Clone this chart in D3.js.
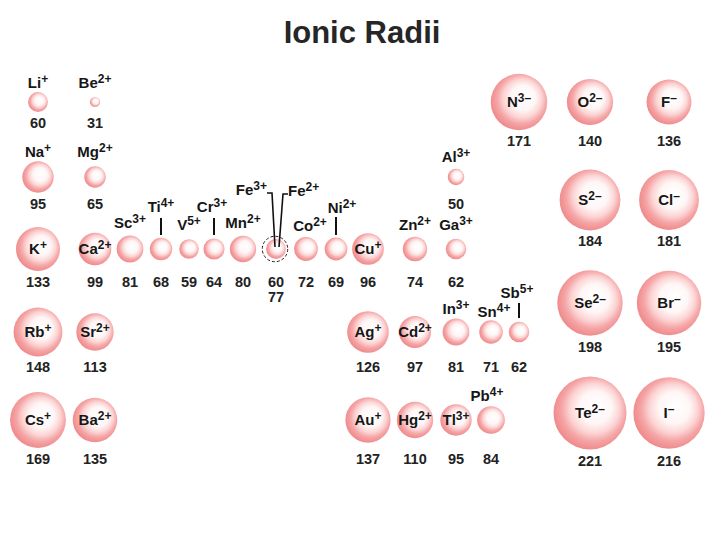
<!DOCTYPE html>
<html>
<head>
<meta charset="utf-8">
<script src="https://cdn.jsdelivr.net/npm/d3@7"></script>
<style>
  body { margin: 0; background: #fff; }
  text { font-family: "Liberation Sans", Arial, sans-serif; font-weight: bold; fill: #161616; }
</style>
</head>
<body>
<svg id="chart" width="720" height="540"></svg>
<script>
const symbols = ["Li", "Be", "Na", "Mg", "K", "Ca", "Sc", "Ti", "V", "Cr", "Mn", "Fe", "Fe", "Co", "Ni", "Cu", "Zn", "Ga", "Al",
  "Rb", "Sr", "Ag", "Cd", "In", "Sn", "Sb", "Cs", "Ba", "Au", "Hg", "Tl", "Pb",
  "N", "O", "F", "S", "Cl", "Se", "Br", "Te", "I"];
const charges = ["+", "2+", "+", "2+", "+", "2+", "3+", "4+", "5+", "3+", "2+", "3+", "2+", "2+", "2+", "+", "2+", "3+", "3+",
  "+", "2+", "+", "2+", "3+", "4+", "5+", "+", "2+", "+", "2+", "3+", "4+",
  "3–", "2–", "–", "2–", "–", "2–", "–", "2–", "–"];
const radii = [60, 31, 95, 65, 133, 99, 81, 68, 59, 64, 80, 60, 77, 72, 69, 96, 74, 62, 50,
  148, 113, 126, 97, 81, 71, 62, 169, 135, 137, 110, 95, 84,
  171, 140, 136, 184, 181, 198, 195, 221, 216];
const groups = [1, 2, 1, 2, 1, 2, 3, 4, 5, 6, 7, 8, 8, 9, 10, 11, 12, 13, 13,
  1, 2, 11, 12, 13, 14, 15, 1, 2, 11, 12, 13, 14,
  15, 16, 17, 16, 17, 16, 17, 16, 17];
const periods = [2, 2, 3, 3, 4, 4, 4, 4, 4, 4, 4, 4, 4, 4, 4, 4, 4, 4, 3,
  5, 5, 5, 5, 5, 5, 5, 6, 6, 6, 6, 6, 6,
  2, 2, 2, 3, 3, 4, 4, 5, 5];

// layout of the table
const xScale = d3.scaleOrdinal().domain(d3.range(1, 18))
  .range([38, 95, 130, 161, 189, 214, 243, 276, 306, 336, 368, 415, 456, 491, 519, 590, 669]);
const yCation = d3.scaleOrdinal().domain([2, 3, 4, 5, 6]).range([102, 177, 249, 332, 420]);
const yAnion = d3.scaleOrdinal().domain([2, 3, 4, 5]).range([102, 200, 303, 413]);
const rScale = d3.scaleLinear().domain([0, 221]).range([0, 36.5]);

// small ions get their label above the ball
const outside = {
  "Li+": { dy: -14 }, "Be2+": { dy: -14 }, "Na+": { dy: -20 }, "Mg2+": { dy: -20 },
  "Sc3+": { dy: -21 }, "V5+": { dy: -19 }, "Mn2+": { dy: -21 }, "Co2+": { dx: 4, dy: -18 },
  "Zn2+": { dy: -19 }, "Ga3+": { dy: -19 }, "Al3+": { dy: -15 },
  "Ti4+": { dy: -37, tick: [-31, -14] }, "Cr3+": { dx: -2, dy: -37, tick: [-31, -14] },
  "Ni2+": { dx: 6, dy: -36, tick: [-32, -14] },
  "In3+": { dy: -18 }, "Sn4+": { dx: 3, dy: -15 }, "Sb5+": { dx: -2, dy: -34, tick: [-29, -14] },
  "Pb4+": { dx: -4, dy: -19 },
  "Fe3+": { dx: -9, dy: -54, anchor: "end", leader: [[-9, -56], [-4, -56], [-1, -2]] },
  "Fe2+": { dx: 12, dy: -53, anchor: "start", leader: [[12, -55], [7, -55], [3, -2]] },
};

const data = symbols.map((s, i) => {
  const anion = charges[i].includes("–");
  return {
    symbol: s,
    charge: charges[i],
    key: s + charges[i].replace("–", ""),
    radius: radii[i],
    anion: anion,
    x: xScale(groups[i]),
    y: anion ? yAnion(periods[i]) : yCation(periods[i]),
  };
});

// value labels line up per row: below the biggest ball of that row
const rowMax = d3.rollup(data, (v) => d3.max(v, (d) => rScale(d.radius)), (d) => d.anion + "_" + d.y);
const cellCount = {};
data.forEach((d) => {
  const cell = d.x + "_" + d.y;
  d.stack = cellCount[cell] || 0;
  cellCount[cell] = d.stack + 1;
  d.valueY = d.y + rowMax.get(d.anion + "_" + d.y) + 16 + d.stack * 15;
});

const svg = d3.select("#chart");

const grad = svg.append("defs").append("radialGradient")
  .attr("id", "ball")
  .attr("cx", "0.54").attr("cy", "0.46").attr("r", "0.55")
  .attr("fx", "0.6").attr("fy", "0.4");
[[0, "#ffffff"], [0.4, "#fff6f6"], [0.62, "#fcd4d4"], [0.8, "#f5a5a6"], [1, "#ef898b"]]
  .forEach(([o, c]) => grad.append("stop").attr("offset", o).attr("stop-color", c));

svg.append("text")
  .attr("x", 362)
  .attr("y", 43)
  .attr("text-anchor", "middle")
  .style("font-size", "31px")
  .style("fill", "#262626")
  .text("Ionic Radii");

const filled = data.filter((d) => d.stack === 0);
const dashed = data.filter((d) => d.stack > 0);

svg.selectAll("circle.ball")
  .data(filled)
  .enter()
  .append("circle")
  .attr("class", "ball")
  .attr("cx", (d) => d.x)
  .attr("cy", (d) => d.y)
  .attr("r", (d) => rScale(d.radius))
  .attr("fill", "url(#ball)");

svg.selectAll("circle.shell")
  .data(dashed)
  .enter()
  .append("circle")
  .attr("class", "shell")
  .attr("cx", (d) => d.x - 1)
  .attr("cy", (d) => d.y)
  .attr("r", (d) => rScale(d.radius))
  .attr("fill", "none")
  .attr("stroke", "#2a1a1a")
  .attr("stroke-width", 1)
  .attr("stroke-dasharray", "3,2");

// ticks and leader lines for labels placed above
data.forEach((d) => {
  const o = outside[d.key];
  if (!o) return;
  if (o.tick) {
    svg.append("line")
      .attr("x1", d.x).attr("x2", d.x)
      .attr("y1", d.y + o.tick[0]).attr("y2", d.y + o.tick[1])
      .attr("stroke", "#111").attr("stroke-width", 2);
  }
  if (o.leader) {
    svg.append("path")
      .attr("d", d3.line()(o.leader.map((p) => [d.x + p[0], d.y + p[1]])))
      .attr("fill", "none")
      .attr("stroke", "#111")
      .attr("stroke-width", 1.6);
  }
});

const labels = svg.selectAll("text.ion")
  .data(data)
  .enter()
  .append("text")
  .attr("class", "ion")
  .attr("x", (d) => d.x + ((outside[d.key] || {}).dx || 0))
  .attr("y", (d) => d.y + (outside[d.key] ? outside[d.key].dy : 5))
  .attr("text-anchor", (d) => (outside[d.key] || {}).anchor || "middle")
  .style("font-size", "15px");
labels.append("tspan").text((d) => d.symbol);
labels.append("tspan")
  .attr("dy", -5)
  .style("font-size", "12px")
  .text((d) => d.charge);

svg.selectAll("text.value")
  .data(data)
  .enter()
  .append("text")
  .attr("class", "value")
  .attr("x", (d) => d.x)
  .attr("y", (d) => d.valueY)
  .attr("text-anchor", "middle")
  .style("font-size", "14.5px")
  .style("fill", "#222")
  .text((d) => d.radius);
</script>
</body>
</html>
